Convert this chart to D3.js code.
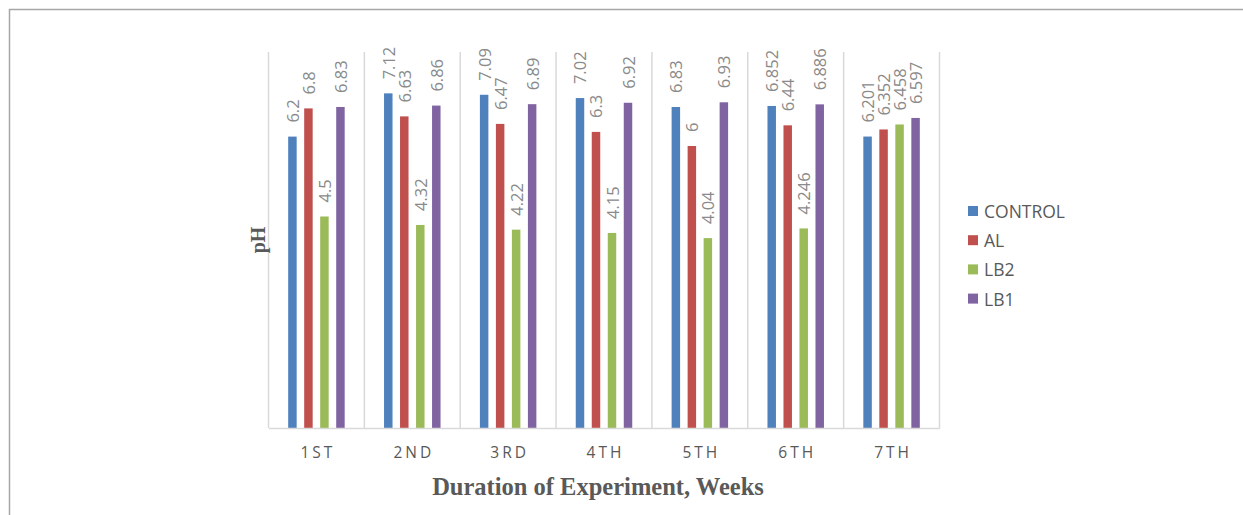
<!DOCTYPE html>
<html>
<head>
<meta charset="utf-8">
<script src="https://cdn.jsdelivr.net/npm/d3@7"></script>
<style>
  html, body { margin: 0; padding: 0; background: #fff; }
  svg { display: block; }
</style>
</head>
<body>
<svg id="chart" width="1243" height="515"></svg>
<script>
// Weekly pH readings per treatment
const weeks = ["1ST", "2ND", "3RD", "4TH", "5TH", "6TH", "7TH"];
const seriesNames = ["CONTROL", "AL", "LB2", "LB1"];
const control = [6.2, 7.12, 7.09, 7.02, 6.83, 6.852, 6.201];
const al = [6.8, 6.63, 6.47, 6.3, 6, 6.44, 6.352];
const lb2 = [4.5, 4.32, 4.22, 4.15, 4.04, 4.246, 6.458];
const lb1 = [6.83, 6.86, 6.89, 6.92, 6.93, 6.886, 6.597];
const seriesColors = ["#4F81BD", "#C0504D", "#9BBB59", "#8064A2"];

const seriesValues = [control, al, lb2, lb1];
const rows = weeks.map((w, i) => ({
  week: w,
  values: seriesNames.map((s, j) => ({ series: s, value: seriesValues[j][i] }))
}));

const svg = d3.select("#chart");

// Outer frame
svg.append("rect")
  .attr("x", 9.5).attr("y", 9.5)
  .attr("width", 1400).attr("height", 700)
  .attr("fill", "none").attr("stroke", "#a6a6a6").attr("stroke-width", 1.5);

const plot = { left: 268.5, right: 939.5, top: 52, bottom: 428 };

const x = d3.scaleBand().domain(weeks).range([plot.left, plot.right]).padding(0);
const xInner = d3.scaleBand().domain(seriesNames)
  .range([0, x.bandwidth()]).paddingInner(0.47).paddingOuter(1.23);
const y = d3.scaleLinear().domain([0, 8]).range([plot.bottom, plot.top]);
const color = d3.scaleOrdinal().domain(seriesNames).range(seriesColors);

// Vertical separators between weeks
const bounds = weeks.map(w => x(w)).concat([x(weeks[weeks.length - 1]) + x.bandwidth()]);
svg.append("g").selectAll("line").data(bounds).join("line")
  .attr("x1", d => d).attr("x2", d => d)
  .attr("y1", plot.top).attr("y2", plot.bottom)
  .attr("stroke", "#d9d9d9").attr("stroke-width", 1.5);

// Bars and value labels
const groups = svg.append("g").selectAll("g").data(rows).join("g")
  .attr("transform", d => `translate(${x(d.week)},0)`);

groups.selectAll("rect").data(d => d.values).join("rect")
  .attr("x", d => xInner(d.series))
  .attr("width", xInner.bandwidth())
  .attr("y", d => y(d.value))
  .attr("height", d => y(0) - y(d.value))
  .attr("fill", d => color(d.series));

groups.selectAll("text").data(d => d.values).join("text")
  .attr("transform", d => `translate(${xInner(d.series) + xInner.bandwidth() / 2},${y(d.value) - 14}) rotate(-90)`)
  .attr("text-anchor", "start")
  .attr("dominant-baseline", "central")
  .attr("font-family", "'Open Sans', sans-serif")
  .attr("font-size", 16.5)
  .attr("fill", "#8a8a8a")
  .text(d => String(d.value));

// Category axis
const xAxis = svg.append("g")
  .attr("transform", `translate(0,${plot.bottom})`)
  .call(d3.axisBottom(x).tickSize(0).tickPadding(19));
xAxis.select(".domain").attr("stroke", "#d9d9d9").attr("stroke-width", 1.5);
xAxis.selectAll("text")
  .attr("font-family", "'Open Sans', sans-serif")
  .attr("font-size", 15.5)
  .attr("letter-spacing", "3px")
  .attr("dx", "1.5px")
  .attr("fill", "#595959");

// Axis titles
svg.append("text")
  .attr("x", (plot.left + plot.right) / 2 - 6).attr("y", 495)
  .attr("text-anchor", "middle")
  .attr("font-family", "'Liberation Serif', serif")
  .attr("font-weight", "bold").attr("font-size", 24.5)
  .attr("fill", "#595959")
  .text("Duration of Experiment, Weeks");

svg.append("text")
  .attr("transform", `translate(265,${(plot.top + plot.bottom) / 2}) rotate(-90)`)
  .attr("text-anchor", "middle")
  .attr("font-family", "'Liberation Serif', serif")
  .attr("font-weight", "bold").attr("font-size", 20)
  .attr("fill", "#595959")
  .text("pH");

// Legend
const legend = svg.append("g").attr("transform", "translate(968,211)");
const item = legend.selectAll("g").data(seriesNames).join("g")
  .attr("transform", (d, i) => `translate(0,${i * 29.2})`);
item.append("rect")
  .attr("x", 0).attr("y", -5).attr("width", 10).attr("height", 10)
  .attr("fill", d => color(d));
item.append("text")
  .attr("x", 16).attr("y", 0)
  .attr("dominant-baseline", "central")
  .attr("font-family", "'Open Sans', sans-serif")
  .attr("font-size", 17.5)
  .attr("fill", "#595959")
  .text(d => d);
</script>
</body>
</html>
